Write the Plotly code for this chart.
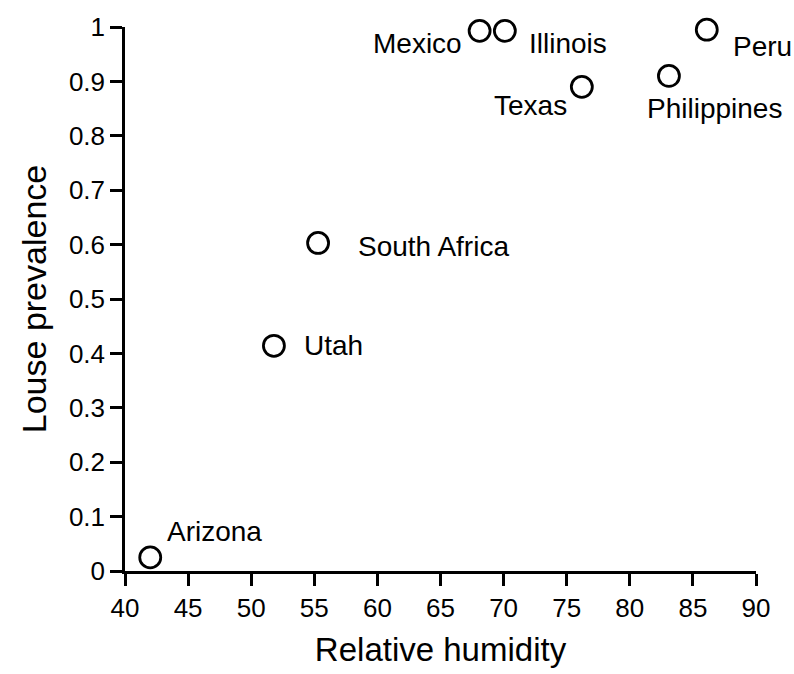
import plotly.graph_objects as go

# Data
locations = ["Arizona", "Utah", "South Africa", "Mexico", "Illinois", "Texas", "Philippines", "Peru"]
humidity = [42.0, 51.8, 55.3, 68.1, 70.1, 76.2, 83.1, 86.1]
prevalence = [0.025, 0.414, 0.603, 0.993, 0.993, 0.89, 0.91, 0.995]

x_ticks = [40, 45, 50, 55, 60, 65, 70, 75, 80, 85, 90]
y_ticks = [0, 0.1, 0.2, 0.3, 0.4, 0.5, 0.6, 0.7, 0.8, 0.9, 1]
y_tick_text = ["0", "0.1", "0.2", "0.3", "0.4", "0.5", "0.6", "0.7", "0.8", "0.9", "1"]

# label placement (pixels): anchor, xshift, yshift
label_style = {
    "Arizona": ("left", 15, 26),
    "Utah": ("left", 28, 0),
    "South Africa": ("left", 38, -4),
    "Mexico": ("right", -16, -13),
    "Illinois": ("left", 22, -13),
    "Texas": ("right", -13, -19),
    "Philippines": ("left", -24, -33),
    "Peru": ("left", 24, -17),
}

FONT = "Liberation Sans, Arial, sans-serif"

fig = go.Figure()
fig.add_trace(go.Scatter(
    x=humidity, y=prevalence, mode="markers",
    marker=dict(symbol="circle-open", size=21, color="black", line=dict(width=2.8, color="black")),
    showlegend=False, cliponaxis=False,
))

for name, xv, yv in zip(locations, humidity, prevalence):
    anchor, xs, ys = label_style[name]
    fig.add_annotation(x=xv, y=yv, text=name, showarrow=False, xanchor=anchor, yanchor="middle",
                       xshift=xs, yshift=ys, font=dict(family=FONT, size=28, color="black"))

axis_common = dict(
    showline=True, linecolor="black", linewidth=2.5, ticks="outside", ticklen=12, tickwidth=2.5,
    tickcolor="black", showgrid=False, zeroline=False, mirror=False,
    tickfont=dict(family=FONT, size=26, color="black"),
)

fig.update_xaxes(range=[40, 90], tickvals=x_ticks, ticktext=[str(v) for v in x_ticks],
                 title=dict(text="Relative humidity", font=dict(family=FONT, size=33, color="black"), standoff=16),
                 **axis_common)
fig.update_yaxes(range=[0, 1], tickvals=y_ticks, ticktext=y_tick_text,
                 title=dict(text="Louse prevalence", font=dict(family=FONT, size=34, color="black"), standoff=12),
                 **axis_common)

fig.update_layout(
    width=794, height=674, autosize=False,
    margin=dict(l=125, r=38, t=24, b=97, pad=0),
    plot_bgcolor="white", paper_bgcolor="white",
)

fig.write_html("out.html")
